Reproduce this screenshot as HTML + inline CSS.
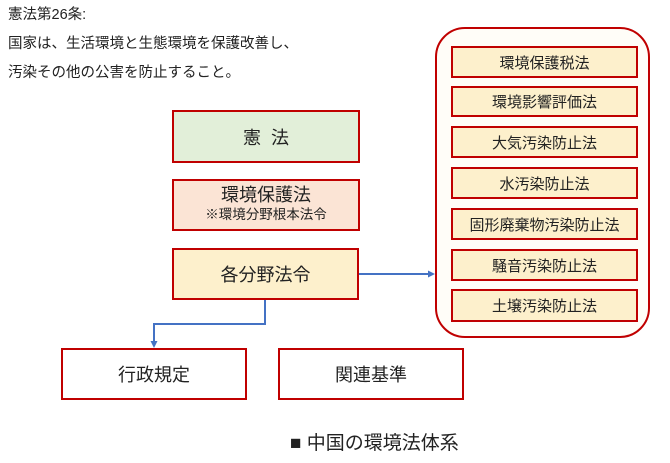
<!DOCTYPE html>
<html><head><meta charset="utf-8"><style>
body{margin:0;width:670px;height:463px;background:#fff;position:relative;font-family:"Liberation Sans","Noto Sans CJK JP",sans-serif;color:#222;overflow:hidden}
.t{position:absolute;white-space:nowrap}
.b{position:absolute;box-sizing:border-box;border:2px solid #c00000;display:flex;flex-direction:column;align-items:center;justify-content:center;text-align:center}
.i{position:absolute;left:451px;width:187px;box-sizing:border-box;border:2px solid #c00000;background:#fdf0cc;display:flex;align-items:center;justify-content:center;font-size:15px}
</style></head><body>
<div class="t" style="left:8px;top:3px;font-size:14.5px">憲法第26条:</div>
<div class="t" style="left:8px;top:32px;font-size:14.5px">国家は、生活環境と生態環境を保護改善し、</div>
<div class="t" style="left:8px;top:61px;font-size:14.5px">汚染その他の公害を防止すること。</div>
<div class="b" style="left:172px;top:110px;width:188px;height:53px;background:#e2efd9;font-size:18px">憲&nbsp;&nbsp;法</div>
<div class="b" style="left:172px;top:179px;width:188px;height:52px;background:#fbe4d5;font-size:18px;line-height:20px">環境保護法<span style="font-size:13.5px">※環境分野根本法令</span></div>
<div class="b" style="left:172px;top:248px;width:187px;height:52px;background:#fdf0cc;font-size:18px">各分野法令</div>
<div class="b" style="left:61px;top:348px;width:186px;height:52px;background:#fff;font-size:18px">行政規定</div>
<div class="b" style="left:278px;top:348px;width:186px;height:52px;background:#fff;font-size:18px">関連基準</div>
<div style="position:absolute;left:435px;top:27px;width:215px;height:311px;box-sizing:border-box;border:2px solid #c00000;border-radius:30px;background:#fffdf8"></div>
<div class="i" style="top:46px;height:32px">環境保護税法</div>
<div class="i" style="top:86px;height:31px">環境影響評価法</div>
<div class="i" style="top:126px;height:32px">大気汚染防止法</div>
<div class="i" style="top:167px;height:32px">水汚染防止法</div>
<div class="i" style="top:208px;height:32px">固形廃棄物汚染防止法</div>
<div class="i" style="top:249px;height:32px">騒音汚染防止法</div>
<div class="i" style="top:289px;height:33px">土壌汚染防止法</div>
<svg style="position:absolute;left:0;top:0" width="670" height="463">
<g stroke="#4472c4" stroke-width="2" fill="none"><path d="M359 274H429"/><path d="M265 300V324H154V341"/></g>
<path d="M435 274l-7-3.5v7z" fill="#4472c4"/><path d="M154 348l-3.5-7h7z" fill="#4472c4"/>
</svg>
<div class="t" style="left:290px;top:428px;font-size:19px">■ 中国の環境法体系</div>
</body></html>
